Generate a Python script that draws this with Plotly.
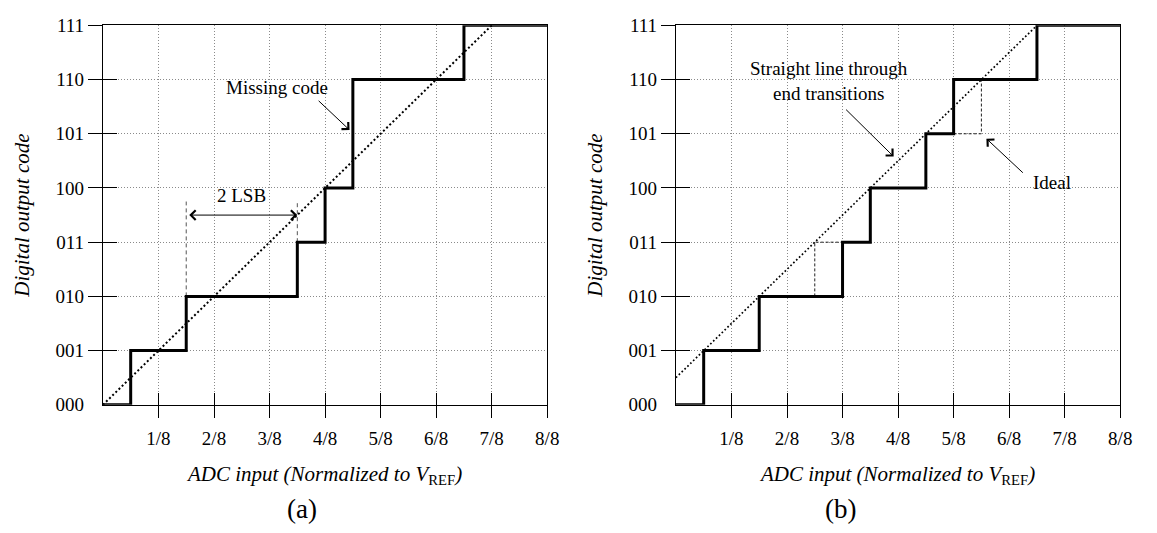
import plotly.graph_objects as go

# ---------------- data ----------------
codes = ["000", "001", "010", "011", "100", "101", "110", "111"]
code_vals = [0, 1, 2, 3, 4, 5, 6, 7]
x_tick_vals = [1, 2, 3, 4, 5, 6, 7, 8]
x_tick_text = ["1/8", "2/8", "3/8", "4/8", "5/8", "6/8", "7/8", "8/8"]

# (a) transfer function with a missing code
a_step_x = [0, 0.5, 1.5, 3.5, 4, 4.5, 6.5, 8]
a_step_y = [0, 1, 2, 3, 4, 6, 7, 7]
a_ideal_x = [0, 7]
a_ideal_y = [0, 7]
lsb_left_x = [1.5, 1.5]
lsb_left_y = [2, 3.75]
lsb_right_x = [3.5, 3.5]
lsb_right_y = [3, 3.75]

# (b) transfer function with end-point line
b_step_x = [0, 0.5, 1.5, 3, 3.5, 4.5, 5, 6.5, 8]
b_step_y = [0, 1, 2, 3, 4, 5, 6, 7, 7]
b_line_x = [0, 6.5]
b_line_y = [0.5, 7]
ideal1_x = [2.5, 2.5, 3]
ideal1_y = [2, 3, 3]
ideal2_x = [5, 5.5, 5.5]
ideal2_y = [5, 5, 6]

FONT = "Liberation Serif"
W, H = 1157, 533

fig = go.Figure()

def add(x, y, xa, ya, width, dash=None, shape=None, color="black"):
    line = dict(color=color, width=width)
    if dash:
        line["dash"] = dash
    if shape:
        line["shape"] = shape
    fig.add_trace(go.Scatter(x=x, y=y, xaxis=xa, yaxis=ya, mode="lines",
                             line=line, hoverinfo="skip", showlegend=False))

# (a)
add(a_ideal_x, a_ideal_y, "x", "y", 2, dash="2px,2.4px")
add(lsb_left_x, lsb_left_y, "x", "y", 1, dash="4px,3px", color="#555")
add(lsb_right_x, lsb_right_y, "x", "y", 1, dash="4px,3px", color="#555")
add(a_step_x, a_step_y, "x", "y", 3, shape="hv")
# (b)
add(b_line_x, b_line_y, "x2", "y2", 1.7, dash="1.7px,2.3px")
add(ideal1_x, ideal1_y, "x2", "y2", 1, dash="3px,2px", color="#222")
add(ideal2_x, ideal2_y, "x2", "y2", 1, dash="3px,2px", color="#222")
add(b_step_x, b_step_y, "x2", "y2", 3, shape="hv")

dom_a = [104 / W, 553 / W]
dom_b = [683 / W, 1132 / W]
dom_y = [1 - 411 / H, 1 - 16 / H]

tickfont = dict(family=FONT, size=19, color="black")
titlefont = dict(family=FONT, size=21, color="black")
grid = dict(showgrid=True, gridcolor="#8a8a8a", gridwidth=1, griddash="1px,2px")

def xmain(domain, anchor):
    return dict(domain=domain, anchor=anchor, range=[0, 8], tickvals=x_tick_vals,
                ticktext=x_tick_text, ticks="outside", ticklen=12, tickwidth=1,
                tickcolor="black", showline=True, linecolor="black", linewidth=1,
                mirror=True, zeroline=False, tickfont=tickfont, ticklabelstandoff=4,
                title=dict(text="<i>ADC input (Normalized to V</i><sub>REF</sub><i>)</i>",
                           font=titlefont, standoff=18),
                **grid)

def ymain(anchor):
    return dict(domain=dom_y, anchor=anchor, range=[0, 7], tickvals=code_vals,
                ticktext=codes, ticks="outside", ticklen=14, tickwidth=1,
                tickcolor="rgba(0,0,0,0)", showline=True, linecolor="black", linewidth=1,
                mirror=True, zeroline=False, tickfont=tickfont,
                title=dict(text="<i>Digital output code</i>",
                           font=titlefont, standoff=20),
                **grid)

def x_inside(over, anchor):
    return dict(overlaying=over, anchor=anchor, range=[0, 8], tickvals=x_tick_vals,
                ticks="inside", ticklen=12, tickwidth=1, tickcolor="black",
                showticklabels=False, showgrid=False, showline=False, zeroline=False)

def y_ticks(over, anchor, side):
    return dict(overlaying=over, anchor=anchor, range=[0, 7], tickvals=code_vals[1:],
                ticks=side, ticklen=14, tickwidth=1, tickcolor="black",
                showticklabels=False, showgrid=False, showline=False, zeroline=False)

# invisible helper traces so the overlay tick axes are drawn
for xa, ya in [("x3", "y3"), ("x3", "y5"), ("x4", "y4"), ("x4", "y6")]:
    fig.add_trace(go.Scatter(x=[None], y=[None], xaxis=xa, yaxis=ya, mode="lines",
                             hoverinfo="skip", showlegend=False))

fig.update_layout(
    width=W, height=H,
    margin=dict(l=0, r=0, t=0, b=0),
    paper_bgcolor="white", plot_bgcolor="white",
    font=dict(family=FONT, color="black"),
    xaxis=xmain(dom_a, "y"),
    yaxis=ymain("x"),
    xaxis2=xmain(dom_b, "y2"),
    yaxis2=ymain("x2"),
    xaxis3=x_inside("x", "y"),
    xaxis4=x_inside("x2", "y2"),
    yaxis3=y_ticks("y", "x", "outside"),
    yaxis5=y_ticks("y", "x", "inside"),
    yaxis4=y_ticks("y2", "x2", "outside"),
    yaxis6=y_ticks("y2", "x2", "inside"),
)

lab = dict(family=FONT, size=19, color="black")
arrow = dict(showarrow=True, arrowhead=4, arrowsize=1.9, arrowwidth=1,
             arrowcolor="black", text=" ")

fig.add_annotation(x=3.13, y=5.85, xref="x", yref="y", text="Missing code",
                   showarrow=False, font=lab)
fig.add_annotation(x=4.44, y=5.07, ax=3.83, ay=5.66, xref="x", yref="y",
                   axref="x", ayref="y", **arrow)
fig.add_annotation(x=2.5, y=3.87, xref="x", yref="y", text="2 LSB",
                   showarrow=False, font=lab)
fig.add_annotation(x=3.5, y=3.5, ax=1.5, ay=3.5, xref="x", yref="y",
                   axref="x", ayref="y", arrowside="end+start", **arrow)

fig.add_annotation(x=2.76, y=5.98, xref="x2", yref="y2",
                   text="Straight line through<br>end transitions",
                   showarrow=False, font=lab)
fig.add_annotation(x=3.92, y=4.58, ax=3.01, ay=5.5, xref="x2", yref="y2",
                   axref="x2", ayref="y2", **arrow)
fig.add_annotation(x=6.78, y=4.11, xref="x2", yref="y2", text="Ideal",
                   showarrow=False, font=lab)
fig.add_annotation(x=5.59, y=4.91, ax=6.3, ay=4.23, xref="x2", yref="y2",
                   axref="x2", ayref="y2", **arrow)

sub = dict(family=FONT, size=27, color="black")
fig.add_annotation(x=288 / W, y=1 - 519 / H, xref="paper", yref="paper", text="(a)",
                   showarrow=False, font=sub, yanchor="middle")
fig.add_annotation(x=867 / W, y=1 - 519 / H, xref="paper", yref="paper", text="(b)",
                   showarrow=False, font=sub, yanchor="middle")

fig.write_html("out.html")
